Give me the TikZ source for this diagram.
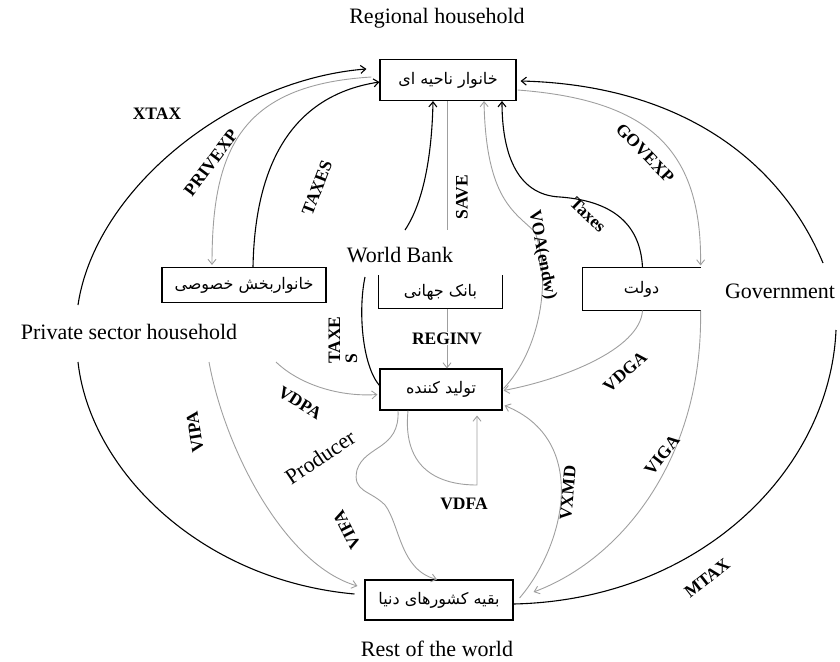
\documentclass[tikz,border=0pt]{standalone}
\usepackage{fontspec}
\setmainfont{Liberation Serif}
\newfontfamily\farsi[Script=Arabic]{DejaVu Sans}
\TeXXeTstate=1
\usetikzlibrary{arrows.meta,calc}
\begin{document}
\begin{tikzpicture}[x=1pt, y=-1pt,
    >={Straight Barb[length=5pt,width=8pt]},
    box/.style={draw, line width=1.1pt, font=\farsi\fontsize{16}{18}\selectfont},
    eng/.style={font=\fontsize{22}{24}\selectfont, inner sep=1pt},
    flow/.style={text=black, font=\bfseries\fontsize{17.5}{17}\selectfont, inner sep=1pt},
    blk/.style={line width=1.1pt},
    gry/.style={line width=.9pt, gray!75}]
  \useasboundingbox (0,0) rectangle (840,661);

  % boxes
  \node[box, minimum width=136, minimum height=41] (rh) at (448,80) {\beginR خانوار ناحیه ای\endR};
  \node[box, minimum width=164, minimum height=35] (ps) at (244,285) {\beginR خانواربخش خصوصی\endR};
  \node[box, draw=none, minimum width=123, minimum height=32] (wb) at (440.5,292) {\beginR بانک جهانی\endR};
  \node[box, draw=none, minimum width=117, minimum height=42] (gov) at (641.5,289) {\beginR دولت\endR};
  \node[box, minimum width=122, minimum height=41] (pr) at (441,389.5) {\beginR تولید کننده\endR};
  \node[box, minimum width=148, minimum height=40] (row) at (439,600) {\beginR بقیه کشورهای دنیا\endR};
  \draw[blk] (wb.north west) -- (wb.south west) -- (wb.south east) -- (wb.north east);
  \draw[blk] (gov.north east) -- (gov.north west) -- (gov.south west) -- (gov.south east);

  % english names
  \node[eng] (rhname) at (437,18) {Regional household};
  \node[eng] (psname) at (129,332) {Private sector household};
  \node[eng] (wbname) at (400,255) {World Bank};
  \node[eng] (govname) at (780,291) {Government};
  \node[eng, rotate=34] (prname) at (320,457) {Producer};
  \node[eng] (rowname) at (437,649) {Rest of the world};

  % loose ends
  \coordinate (xl1) at (78,305);
  \coordinate (xl2) at (78,362);
  \coordinate (xr1) at (823,263);
  \coordinate (xr2) at (836,330);
  \coordinate (vipa) at (209,362);
  \coordinate (vdpa) at (276,362);
  \coordinate (tx1) at (365,277);
  \coordinate (tx2) at (405,230);
  \coordinate (sv) at (447,230);

  % outer arcs
  \draw[blk,->] (xl1) .. controls (95,190) and (230,80) .. ($(rh.north west)+(-13,10)$);
  \draw[blk] (xl2) .. controls (90,470) and (200,580) .. ($(row.west)+(-10,-6)$);
  \draw[blk,->] (xr1) .. controls (780,160) and (680,85) .. ($(rh.east)+(4,1)$);
  \draw[blk] (xr2) .. controls (830,470) and (700,600) .. ($(row.east)+(0,4)$);

  % private sector
  \draw[gry,->] ($(rh.west)+(-8,-3)$) .. controls (240,85) and (212,150) .. ($(ps.north)+(-32,-2)$);
  \draw[blk,->] ($(ps.north)+(9,0)$) .. controls (255,160) and (295,95) .. ($(rh.west)+(0,2)$);
  \draw[gry,->] (vipa) .. controls (225,450) and (285,565) .. ($(row.west)+(-7,-14)$);
  \draw[gry,->] (vdpa) .. controls (300,385) and (340,397) .. ($(pr.west)+(-2,5)$);

  % world bank
  \draw[blk] ($(pr.west)+(0,-4)$) .. controls (362,365) and (358,310) .. (tx1);
  \draw[blk,->] (tx2) .. controls (425,200) and (432,150) .. ($(rh.south)+(-15,0)$);
  \draw[gry] ($(rh.south)+(-1,0)$) -- (sv);
  \draw[gry,->] (wb.south -| sv) -- node[flow, fill=white] (lreginv) {REGINV} (pr.north -| sv);

  % government
  \draw[gry,->] ($(pr.east)+(1,-1)$) .. controls (540,350) and (552,280) .. (535,232)
    .. controls (515,212) and (486,200) .. ($(rh.south)+(36,0)$);
  \draw[blk,->] ($(gov.north)+(1,0)$) .. controls (640,215) and (600,200) .. (560,197)
    .. controls (515,195) and (502,150) .. ($(rh.south)+(54,0)$);
  \draw[gry,->] ($(rh.east)+(1,10)$) .. controls (650,100) and (702,150) .. ($(gov.north east)+(0,-2)$);
  \draw[gry,->] ($(gov.south)+(1,0)$) .. controls (640,350) and (560,380) .. ($(pr.east)+(1,1)$);
  \draw[gry,->] (gov.south east) .. controls (703,460) and (620,560) .. ($(row.east)+(20,-8)$);

  % producer
  \draw[gry,->] ($(row.east)+(6,-2)$) .. controls (565,545) and (590,440) .. ($(pr.east)+(2,16)$);
  \draw[gry,->] ($(pr.south)+(-43,0)$) .. controls (400,450) and (365,445) .. (357,470)
    .. controls (352,492) and (370,490) .. (385,505)
    .. controls (400,525) and (400,570) .. ($(row.north)+(-2,0)$);
  \draw[gry,->] ($(pr.south)+(-33,0)$) .. controls (402,470) and (440,485) .. (477,485) -- ($(pr.south)+(36,5)$);

  % flow labels
  \node[flow] (lxtax) at (157,114) {XTAX};
  \node[flow, rotate=53] (lprivexp) at (211,163) {PRIVEXP};
  \node[flow, rotate=69] (ltaxes) at (317,188) {TAXES};
  \node[flow, rotate=90] (lsave) at (462,197) {SAVE};
  \node[flow, rotate=90, align=left] (ltaxe) at (343,340) {TAXE\\S};
  \node[flow, rotate=-79] (lvoa) at (542,255) {VOA(endw)};
  \node[flow, rotate=-44] (ltaxgov) at (588,215) {Taxes};
  \node[flow, rotate=-46] (lgovexp) at (645,153) {GOVEXP};
  \node[flow, rotate=-32] (lvdpa) at (300,403) {VDPA};
  \node[flow, rotate=99] (lvipa) at (195,432) {VIPA};
  \node[flow, rotate=117] (lvifa) at (347,530) {VIFA};
  \node[flow] (lvdfa) at (464,504) {VDFA};
  \node[flow, rotate=85] (lvxmd) at (568,493) {VXMD};
  \node[flow, rotate=41] (lvdga) at (625,372) {VDGA};
  \node[flow, rotate=52] (lviga) at (662,455) {VIGA};
  \node[flow, rotate=38] (lmtax) at (707,578) {MTAX};
\end{tikzpicture}
\end{document}
